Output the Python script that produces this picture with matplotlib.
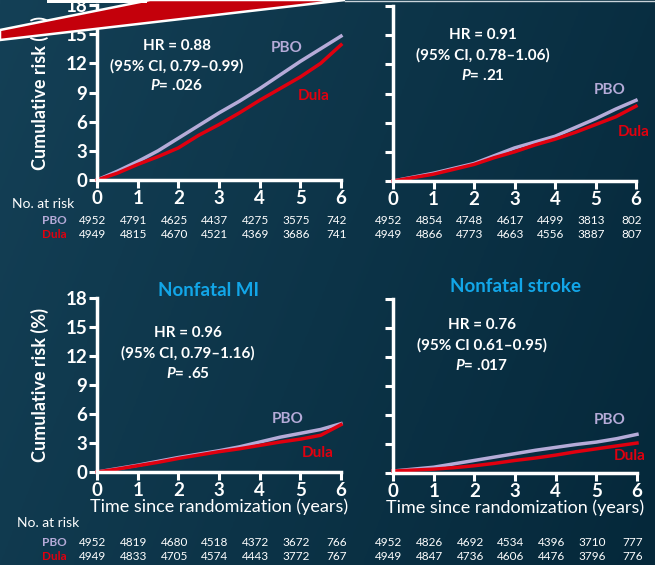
import matplotlib
matplotlib.use('Agg')
import matplotlib.pyplot as plt
import matplotlib.patches as patches
import matplotlib.transforms as mtransforms
import numpy as np

plt.rcParams['font.family'] = ['Lato', 'DejaVu Sans']
plt.rcParams['mathtext.fontset'] = 'custom'
plt.rcParams['mathtext.it'] = 'Lato:bold:italic'
plt.rcParams['mathtext.rm'] = 'Lato:bold'

# data
years = [0, 0.5, 1, 1.5, 2, 2.5, 3, 3.5, 4, 4.5, 5, 5.5, 6]

mace_pbo = [0, 0.9, 1.9, 3.0, 4.3, 5.6, 6.9, 8.1, 9.4, 10.8, 12.2, 13.5, 14.8]
mace_dula = [0, 0.7, 1.6, 2.4, 3.3, 4.6, 5.7, 6.9, 8.2, 9.4, 10.6, 12.0, 13.9]

cvd_pbo = [0, 0.4, 0.8, 1.3, 1.8, 2.6, 3.4, 4.0, 4.6, 5.5, 6.4, 7.4, 8.3]
cvd_dula = [0, 0.35, 0.7, 1.2, 1.7, 2.4, 3.0, 3.7, 4.3, 5.0, 5.8, 6.6, 7.7]

mi_pbo = [0, 0.35, 0.7, 1.1, 1.5, 1.85, 2.2, 2.6, 3.1, 3.6, 4.0, 4.4, 5.0]
mi_dula = [0, 0.3, 0.65, 1.0, 1.4, 1.75, 2.1, 2.4, 2.75, 3.1, 3.4, 3.8, 4.9]

stroke_pbo = [0.2, 0.4, 0.6, 0.95, 1.3, 1.65, 2.0, 2.35, 2.65, 2.95, 3.2, 3.55, 4.0]
stroke_dula = [0.2, 0.3, 0.4, 0.55, 0.75, 1.0, 1.3, 1.55, 1.85, 2.2, 2.5, 2.8, 3.1]

risk_years = [0, 1, 2, 3, 4, 5, 6]
mace_risk_pbo = [4952, 4791, 4625, 4437, 4275, 3575, 742]
mace_risk_dula = [4949, 4815, 4670, 4521, 4369, 3686, 741]
cvd_risk_pbo = [4952, 4854, 4748, 4617, 4499, 3813, 802]
cvd_risk_dula = [4949, 4866, 4773, 4663, 4556, 3887, 807]
mi_risk_pbo = [4952, 4819, 4680, 4518, 4372, 3672, 766]
mi_risk_dula = [4949, 4833, 4705, 4574, 4443, 3772, 767]
stroke_risk_pbo = [4952, 4826, 4692, 4534, 4396, 3710, 777]
stroke_risk_dula = [4949, 4847, 4736, 4606, 4476, 3796, 776]

hr_texts = [
    ["HR = 0.88", "(95% CI, 0.79–0.99)", "$P$= .026"],
    ["HR = 0.91", "(95% CI, 0.78–1.06)", "$P$= .21"],
    ["HR = 0.96", "(95% CI, 0.79–1.16)", "$P$= .65"],
    ["HR = 0.76", "(95% CI 0.61–0.95)", "$P$= .017"],
]

# colours
PBO_C = "#b5abd8"
DULA_C = "#e0000f"
TITLE_C = "#12a6e8"

W, H = 655, 565
fig = plt.figure(figsize=(W / 100, H / 100), dpi=100)

# background gradient
bg = fig.add_axes([0, 0, 1, 1], zorder=-10)
c1 = np.array([20, 64, 86]) / 255
c2 = np.array([5, 40, 58]) / 255
gx = np.linspace(0, 1, 256)
gy = np.linspace(0, 1, 64)
tt = np.clip(0.75 * gx[None, :] + 0.25 * gy[:, None], 0, 1)
img = c1[None, None, :] * (1 - tt[..., None]) + c2[None, None, :] * tt[..., None]
bg.imshow(img, aspect='auto', extent=[0, 1, 0, 1])
bg.axis('off')


def px(x, y):
    return x / W, 1 - y / H


def ftext(x, y, s, **kw):
    fx, fy = px(x, y)
    fig.text(fx, fy, s, ha=kw.pop('ha', 'center'), va=kw.pop('va', 'center'), **kw)


def panel(l, r, t, b, pbo, dula, show_ylab, show_xlab):
    ax = fig.add_axes([l / W, 1 - b / H, (r - l) / W, (b - t) / H])
    ax.set_facecolor('none')
    ax.plot(years, pbo, color=PBO_C, lw=2.5, clip_on=False, solid_joinstyle='miter')
    ax.plot(years, dula, color=DULA_C, lw=2.5, clip_on=False, solid_joinstyle='miter')
    ax.set_xlim(0, 6)
    ax.set_ylim(0, 18)
    for s in ['top', 'right']:
        ax.spines[s].set_visible(False)
    for s in ['left', 'bottom']:
        ax.spines[s].set_color('white')
        ax.spines[s].set_linewidth(2.5)
    ax.set_xticks(range(7))
    ax.set_yticks(range(0, 19, 3))
    ax.tick_params(colors='white', width=2.2, length=6, direction='out', pad=1)
    ax.set_xticklabels([str(i) for i in range(7)], fontsize=13.5, fontweight='bold', color='white')
    if show_ylab:
        ax.set_yticklabels([str(i) for i in range(0, 19, 3)], fontsize=13.5, fontweight='bold', color='white')
        ax.set_ylabel("Cumulative risk (%)", fontsize=13, fontweight='bold', color='white')
        ax.yaxis.set_label_coords(-0.195, 0.5)
    else:
        ax.set_yticklabels([])
    if show_xlab:
        ax.set_xlabel("Time since randomization (years)", fontsize=13, color='white', labelpad=0)
    return ax


def risk_table(ax, y_pbo, y_dula, r_pbo, r_dula, show_lab):
    tr = mtransforms.blended_transform_factory(ax.transData, fig.transFigure)
    off = mtransforms.ScaledTranslation(-4 / 100, 0, fig.dpi_scale_trans)
    for yr, a, b in zip(risk_years, r_pbo, r_dula):
        fig.text(yr, 1 - y_pbo / H, str(a), transform=tr + off, ha='center', va='center',
                 fontsize=8.5, color='white')
        fig.text(yr, 1 - y_dula / H, str(b), transform=tr + off, ha='center', va='center',
                 fontsize=8.5, color='white')
    if show_lab:
        ftext(67, y_pbo, "PBO", ha='right', fontsize=8.5, fontweight='bold', color=PBO_C)
        ftext(67, y_dula, "Dula", ha='right', fontsize=8.5, fontweight='bold', color=DULA_C)


ax1 = panel(97, 341, 5, 180, mace_pbo, mace_dula, True, False)
ax2 = panel(393, 636, 6, 181, cvd_pbo, cvd_dula, False, False)
ax3 = panel(97, 341, 298, 472, mi_pbo, mi_dula, True, True)
ax4 = panel(393, 637, 299, 473, stroke_pbo, stroke_dula, False, True)

# titles
ftext(208, 290, "Nonfatal MI", fontsize=13.5, fontweight='bold', color=TITLE_C)
ftext(515, 287, "Nonfatal stroke", fontsize=13.5, fontweight='bold', color=TITLE_C)

# HR annotations
hr_pos = [(177, 46), (483, 35), (188, 333), (482, 325)]
for (cx, cy), lines in zip(hr_pos, hr_texts):
    for k, s in enumerate(lines):
        ftext(cx, cy + k * 20, s, fontsize=11, fontweight='bold', color='white')

# curve labels
lab_pos = [((287, 48), (314, 96)), ((610, 90), (634, 132)),
           ((288, 419), (318, 453)), ((610, 420), (630, 456))]
for (p, d) in lab_pos:
    ftext(p[0], p[1], "PBO", fontsize=11, fontweight='bold', color=PBO_C)
    ftext(d[0], d[1], "Dula", fontsize=11, fontweight='bold', color=DULA_C)

# at-risk tables
ftext(12, 204, "No. at risk", ha='left', fontsize=10, color='white')
ftext(17, 523, "No. at risk", ha='left', fontsize=10, color='white')
risk_table(ax1, 221, 234, mace_risk_pbo, mace_risk_dula, True)
risk_table(ax2, 221, 234, cvd_risk_pbo, cvd_risk_dula, False)
risk_table(ax3, 542, 556, mi_risk_pbo, mi_risk_dula, True)
risk_table(ax4, 542, 556, stroke_risk_pbo, stroke_risk_dula, False)

# red ribbon in the top-left corner
ov = fig.add_axes([0, 0, 1, 1], zorder=10)
ov.set_xlim(0, W)
ov.set_ylim(H, 0)
ov.axis('off')
ov.add_patch(patches.Polygon([(0, 30), (0, 40), (345, 0), (150, 0)], closed=True,
                             facecolor="#c4000b", edgecolor='white', lw=1.8))
ov.add_patch(patches.Rectangle((47, 0), 100, 2.5, facecolor='white', edgecolor='none'))
ov.plot([345, W], [0.6, 0.6], color='#c9d3da', lw=1)

plt.savefig("out.png", dpi=100)
